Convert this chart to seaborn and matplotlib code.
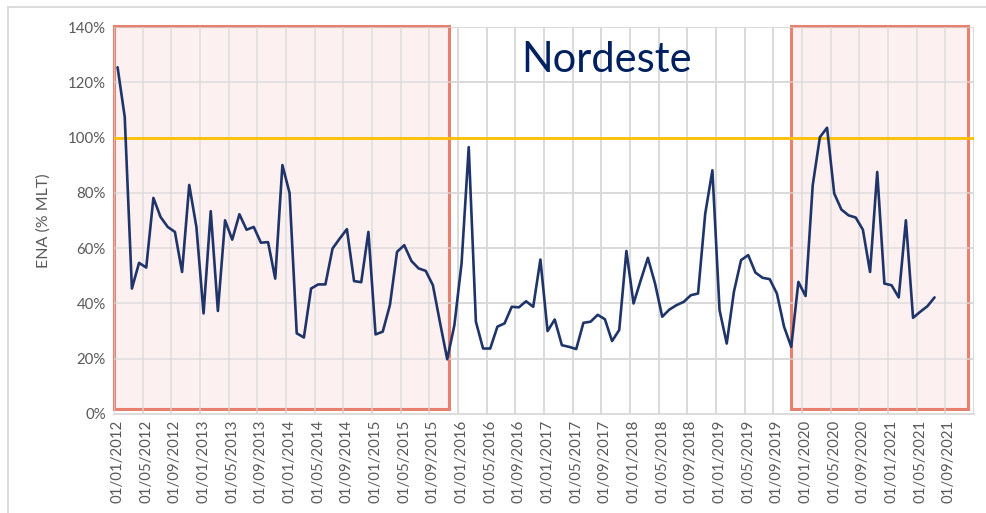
import pandas as pd
import matplotlib.pyplot as plt
import matplotlib.patches as patches
from matplotlib.ticker import FuncFormatter
import seaborn as sns

# --- Data (ENA Nordeste, % MLT, monthly from Jan/2012) ---
ena_2012 = [125.5, 107.5, 45.4, 54.7, 53.0, 78.2, 71.3, 67.7, 65.9, 51.4, 82.9, 67.7]
ena_2013 = [36.4, 73.4, 37.3, 70.1, 63.1, 72.3, 66.7, 67.7, 62.0, 62.2, 49.0, 90.1]
ena_2014 = [80.0, 29.2, 27.7, 45.4, 46.9, 46.9, 59.9, 63.5, 66.9, 48.1, 47.7, 65.9]
ena_2015 = [28.8, 29.8, 39.4, 58.7, 61.1, 55.4, 52.7, 51.8, 46.6, 33.0, 19.8, 32.2]
ena_2016 = [54.5, 96.6, 33.4, 23.7, 23.7, 31.6, 32.8, 38.8, 38.6, 40.8, 38.8, 55.9]
ena_2017 = [30.0, 34.2, 24.9, 24.3, 23.5, 33.0, 33.4, 35.9, 34.3, 26.4, 30.4, 59.0]
ena_2018 = [40.0, 48.4, 56.5, 47.2, 35.2, 37.8, 39.4, 40.6, 43.0, 43.6, 72.5, 88.2]
ena_2019 = [37.6, 25.5, 44.2, 55.7, 57.5, 51.2, 49.3, 48.8, 43.6, 31.6, 24.3, 47.8]
ena_2020 = [42.7, 82.8, 100.2, 103.6, 79.8, 74.0, 71.9, 71.1, 66.7, 51.4, 87.6, 47.2]
ena_2021 = [46.6, 42.2, 70.1, 34.8, 37.0, 39.0, 42.2]

ena = ena_2012 + ena_2013 + ena_2014 + ena_2015 + ena_2016 + ena_2017 + ena_2018 + ena_2019 + ena_2020 + ena_2021
n_months = 120  # category axis runs Jan/2012 .. Dec/2021
months = pd.date_range("2012-01-01", periods=n_months, freq="MS")
tick_labels = [d.strftime("%d/%m/%Y") for d in months[::4]]

df = pd.DataFrame({"pos": range(len(ena)), "ena": ena})

# highlighted periods (category positions)
highlights = [(-0.5, 46.2), (94.0, 118.7)]

# --- Plot ---
sns.set_style("white")
plt.rcParams["font.family"] = ["Lato", "DejaVu Sans"]

fig = plt.figure(figsize=(9.86, 5.13), dpi=100)
ax = fig.add_axes([0.1156, 0.193, 0.8722, 0.754])

grid_c = "#d9d9d9"
for k in range(0, n_months + 1, 4):
    ax.axvline(k - 0.5, color=grid_c, lw=1.3, zorder=0)
for v in range(20, 141, 20):
    ax.axhline(v, color=grid_c, lw=1.3, zorder=0)

for x0, x1 in highlights:
    ax.add_patch(patches.Rectangle((x0, 1.8), x1 - x0, 138.6, facecolor="#fcf0f0",
                                   edgecolor="#e8806f", lw=2.2, zorder=1, clip_on=False))
# grid shows through the shading
for k in range(0, n_months + 1, 4):
    ax.axvline(k - 0.5, color=grid_c, lw=1.3, alpha=0.7, zorder=1.5)
for v in range(20, 141, 20):
    ax.axhline(v, color=grid_c, lw=1.3, alpha=0.7, zorder=1.5)

ax.axhline(100, color="#ffc000", lw=2, zorder=2)
sns.lineplot(data=df, x="pos", y="ena", color="#1f3468", lw=1.9, ax=ax, zorder=3)

ax.set_xlim(-0.5, n_months - 0.5)
ax.set_ylim(0, 140)
ax.set_yticks(range(0, 141, 20))
ax.yaxis.set_major_formatter(FuncFormatter(lambda v, p: f"{v:.0f}%"))
ax.set_xticks(range(0, n_months, 4))
ax.set_xticklabels(tick_labels, rotation=90)
ax.tick_params(axis="both", colors="#595959", labelsize=10.8, length=0, pad=6)
ax.tick_params(axis="x", pad=4)
for s in ax.spines.values():
    s.set_visible(False)
ax.spines["bottom"].set_visible(True)
ax.spines["bottom"].set_color(grid_c)
ax.spines["bottom"].set_linewidth(1.3)

ax.set_xlabel("")
ax.set_ylabel("ENA (% MLT)", color="#595959", fontsize=11.5, labelpad=12)

ax.text(0.573, 0.915, "Nordeste", transform=ax.transAxes, ha="center", va="center",
        fontsize=30, color="#002060", zorder=4)

# chart frame (top and left visible)
fig.add_artist(plt.Line2D([8 / 986, 1.0], [1 - 7 / 513, 1 - 7 / 513], color="#d9d9d9", lw=1.3))
fig.add_artist(plt.Line2D([8 / 986, 8 / 986], [0.0, 1 - 7 / 513], color="#d9d9d9", lw=1.3))

fig.savefig("out.png", dpi=100)
